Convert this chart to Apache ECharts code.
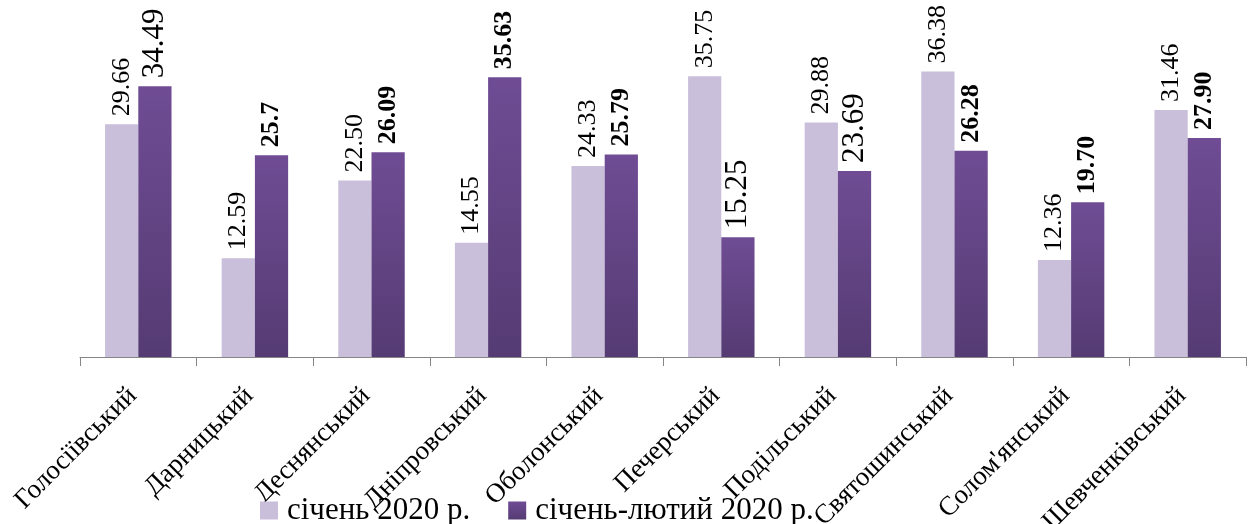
<!DOCTYPE html>
<html>
<head>
<meta charset="utf-8">
<script src="https://cdn.jsdelivr.net/npm/echarts@6/dist/echarts.min.js"></script>
<style>
html,body{margin:0;padding:0;background:#fff;}
#chart{width:1253px;height:524px;}
</style>
</head>
<body>
<div id="chart"></div>
<script>
const districts = ['Голосіївський','Дарницький','Деснянський','Дніпровський','Оболонський','Печерський','Подільський','Святошинський','Солом\'янський','Шевченківський'];
const seriesNames = ['січень 2020 р.', 'січень-лютий 2020 р.'];
const jan2020 = [29.66, 12.59, 22.50, 14.55, 24.33, 35.75, 29.88, 36.38, 12.36, 31.46];
const janFeb2020 = [34.49, 25.7, 26.09, 35.63, 25.79, 15.25, 23.69, 26.28, 19.70, 27.90];
const jan2020Labels = ['29.66','12.59','22.50','14.55','24.33','35.75','29.88','36.38','12.36','31.46'];
const janFeb2020Labels = ['34.49','25.7','26.09','35.63','25.79','15.25','23.69','26.28','19.70','27.90'];
// label style kind per dark bar: 'bold' (bold, normal size) or 'plain' (regular, larger)
const janFeb2020LabelKind = ['plain','bold','bold','bold','bold','plain','plain','bold','bold','bold'];

const FONT = "'Liberation Serif', 'Times New Roman', serif";
const chart = echarts.init(document.getElementById('chart'));

const labelBase = {
  show: true, position: 'top', rotate: 90, align: 'left', verticalAlign: 'middle',
  distance: 8, color: '#000', fontFamily: FONT, fontSize: 26
};

chart.setOption({
  animation: false,
  backgroundColor: '#fff',
  grid: {left: 80, right: 7, top: 43, bottom: 167, containLabel: false, outerBoundsMode: 'none'},
  legend: {
    left: 255, top: 490, itemWidth: 18, itemHeight: 18, itemGap: 38, icon: 'rect',
    textStyle: {fontFamily: FONT, fontSize: 31, color: '#000', padding: [0,0,0,4]},
    data: seriesNames
  },
  xAxis: {
    type: 'category', data: districts,
    axisLine: {lineStyle: {color: '#868686', width: 1}},
    axisTick: {show: true, length: 9, lineStyle: {color: '#868686'}},
    axisLabel: {rotate: 45, interval: 0, margin: 29, fontFamily: FONT, fontSize: 27, color: '#000', align: 'right', verticalAlign: 'middle', padding: [0, 8, 0, 0]}
  },
  yAxis: {type: 'value', min: 0, max: 40, show: false, splitLine: {show: false}},
  series: [
    {
      name: seriesNames[0], type: 'bar', data: jan2020,
      barGap: '0%', barCategoryGap: '43%',
      itemStyle: {color: '#C9BFDA'},
      label: Object.assign({}, labelBase, {formatter: p => jan2020Labels[p.dataIndex]})
    },
    {
      name: seriesNames[1], type: 'bar',
      data: janFeb2020.map((v, i) => ({
        value: v,
        label: janFeb2020LabelKind[i] === 'bold' ? {fontWeight: 'bold', fontSize: 26} : {fontWeight: 'normal', fontSize: 31}
      })),
      barGap: '0%', barCategoryGap: '43%',
      itemStyle: {color: new echarts.graphic.LinearGradient(0, 0, 0, 1, [{offset: 0, color: '#6F4C94'}, {offset: 1, color: '#553B73'}])},
      label: Object.assign({}, labelBase, {formatter: p => janFeb2020Labels[p.dataIndex]})
    }
  ]
});
</script>
</body>
</html>
